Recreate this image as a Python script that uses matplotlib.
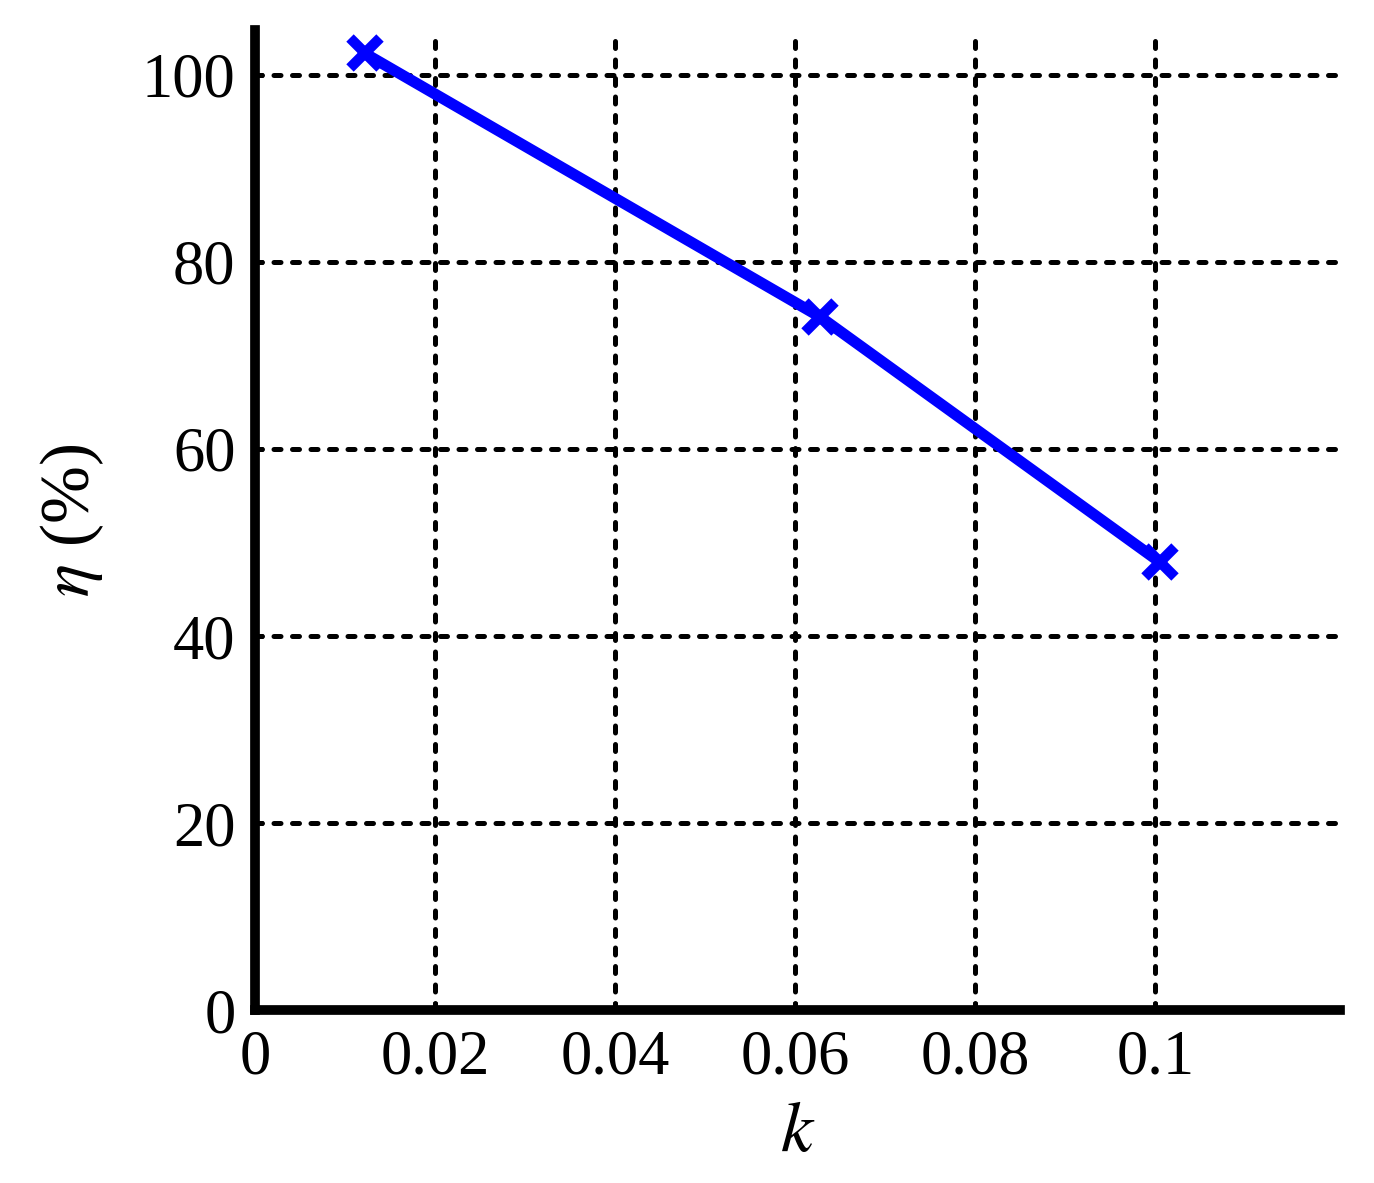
import matplotlib
matplotlib.use("Agg")
import matplotlib.pyplot as plt

# data
k_vals = [0.0122, 0.0628, 0.1005]
eta_vals = [102.3, 74.1, 47.9]
x_ticks = [0, 0.02, 0.04, 0.06, 0.08, 0.1]
x_labels = ["0", "0.02", "0.04", "0.06", "0.08", "0.1"]
y_ticks = [0, 20, 40, 60, 80, 100]

plt.rcParams["font.family"] = ["Liberation Serif", "DejaVu Serif"]
plt.rcParams["mathtext.fontset"] = "stix"

fig = plt.figure(figsize=(13.74, 11.83), dpi=100)
ax = fig.add_axes([0.1856, 0.1462, 0.7897, 0.8284])

ax.plot(k_vals, eta_vals, color="#0000ff", lw=8, marker="x",
        markersize=22, mew=7.5, zorder=3, solid_capstyle="butt")

ax.set_xlim(0, 0.1205)
ax.set_ylim(0, 104.8)
ax.set_xticks(x_ticks)
ax.set_xticklabels(x_labels)
ax.set_yticks(y_ticks)

ax.grid(True, color="black", lw=3.6, linestyle=(0, (1.4, 2.3)),
        dash_capstyle="round")
for s in ["top", "right"]:
    ax.spines[s].set_visible(False)
for s in ["left", "bottom"]:
    ax.spines[s].set_linewidth(7)

ax.tick_params(direction="in", length=6, width=3.6, labelsize=45, pad=14)
ax.set_xlabel(r"$k$", fontsize=52, labelpad=10)
ax.set_ylabel(r"$\eta$ (%)", fontsize=50, labelpad=26)

fig.savefig("out.png", dpi=100)
